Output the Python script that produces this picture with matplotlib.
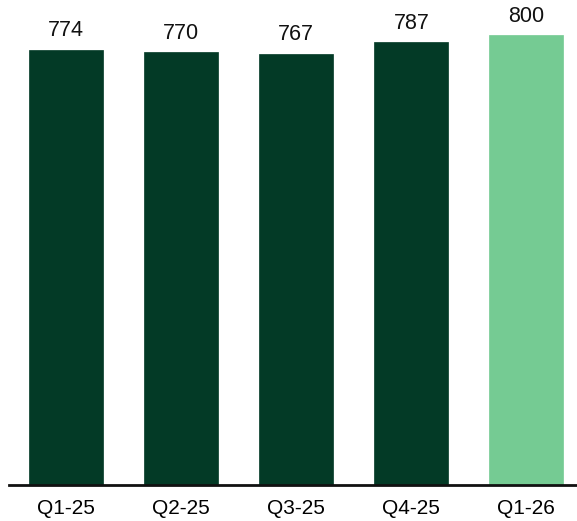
import matplotlib
matplotlib.use("Agg")
import matplotlib.pyplot as plt

categories = ["Q1-25", "Q2-25", "Q3-25", "Q4-25", "Q1-26"]
values = [774, 770, 767, 787, 800]
colors = ["#033a26", "#033a26", "#033a26", "#033a26", "#75cb93"]

plt.rcParams['font.family'] = ['Liberation Sans', 'DejaVu Sans']

W, H = 577, 521
fig = plt.figure(figsize=(W/100, H/100), dpi=100)
base_y = 485
ax = fig.add_axes([9/W, (H-base_y)/H, 568/W, base_y/H])
x = list(range(len(categories)))
ax.bar(x, values, width=0.643, color=colors, edgecolor=colors, linewidth=0.5)
ax.set_xlim(-0.498, 4.44)
ax.set_ylim(0, 800*base_y/450)
for xi, v in zip(x, values):
    ax.annotate(str(v), (xi, v), xytext=(0, 6), textcoords="offset points",
                ha="center", va="bottom", fontsize=15.5, color="#111111")
ax.set_xticks(x)
ax.set_xticklabels(categories, fontsize=15)
ax.tick_params(axis='x', length=0, pad=10)
ax.set_yticks([])
for s in ["top", "right", "left"]:
    ax.spines[s].set_visible(False)
ax.spines["bottom"].set_linewidth(2)
ax.spines["bottom"].set_color("#111111")
fig.savefig("out.png", dpi=100)
